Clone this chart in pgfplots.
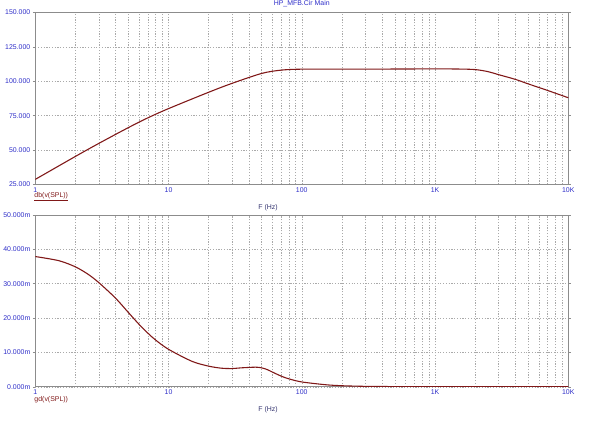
\documentclass[border=0pt]{standalone}
\usepackage{fontspec}
\setmainfont{Liberation Sans}
\usepackage{pgfplots}
\pgfplotsset{compat=1.18}
\definecolor{curve}{RGB}{128,24,24}
\definecolor{tickblue}{RGB}{45,45,200}
\definecolor{gridgray}{RGB}{170,170,170}
\definecolor{axisgray}{RGB}{140,140,140}
\definecolor{labnavy}{RGB}{50,50,110}
\begin{document}
\begin{tikzpicture}
\path (0pt,0pt) rectangle (600pt,424pt);
\begin{semilogxaxis}[scale only axis, width=538pt, height=173.4pt,
  xmin=1, xmax=10000,
  xtick={1,10,100,1000,10000}, xticklabels={1,10,100,1K,10K},
  grid=both,
  major grid style={gridgray, dash pattern=on 1.2pt off 1.6pt, line width=0.45pt},
  minor grid style={gridgray, dash pattern=on 1.2pt off 1.6pt, line width=0.45pt},
  axis line style={axisgray, line width=0.8pt},
  major x tick style={draw=none}, minor x tick style={draw=none},
  major y tick style={axisgray, line width=0.5pt},
  tick align=outside, major tick length=2.5pt,
  ticklabel style={font=\fontsize{7}{8}\selectfont, text=tickblue},
  xticklabel style={yshift=3pt},
  yticklabel style={xshift=1pt},
  xlabel={F (Hz)}, xlabel style={font=\fontsize{7}{8}\selectfont, text=labnavy, yshift=-5pt, xshift=-34pt},
  anchor=south west, at={(30pt,241.6pt)}, ymin=25, ymax=150,
  ytick={25,50,75,100,125,150},
  yticklabels={25.000,50.000,75.000,100.000,125.000,150.000},
  title={HP\_MFB.Cir Main}, title style={font=\fontsize{7}{8}\selectfont, text=tickblue, inner sep=0.5pt, yshift=-1pt}]
\addplot[curve, line width=1.1pt, smooth] coordinates {
(1,28.6)(2,45.3)(3,54.8)(5,66.3)(7,73.4)(10,80.1)(20,92.0)(30,98.5)(50,105.7)(70,108.1)(100,108.8)(200,108.8)(500,108.9)(1000,109.0)(1500,108.9)(2000,108.5)(2500,107.0)(3000,104.8)(4000,101.4)(5000,98.1)(7000,93.3)(10000,88.0)};
\end{semilogxaxis}
\begin{semilogxaxis}[scale only axis, width=538pt, height=173.4pt,
  xmin=1, xmax=10000,
  xtick={1,10,100,1000,10000}, xticklabels={1,10,100,1K,10K},
  grid=both,
  major grid style={gridgray, dash pattern=on 1.2pt off 1.6pt, line width=0.45pt},
  minor grid style={gridgray, dash pattern=on 1.2pt off 1.6pt, line width=0.45pt},
  axis line style={axisgray, line width=0.8pt},
  major x tick style={draw=none}, minor x tick style={draw=none},
  major y tick style={axisgray, line width=0.5pt},
  tick align=outside, major tick length=2.5pt,
  ticklabel style={font=\fontsize{7}{8}\selectfont, text=tickblue},
  xticklabel style={yshift=3pt},
  yticklabel style={xshift=1pt},
  xlabel={F (Hz)}, xlabel style={font=\fontsize{7}{8}\selectfont, text=labnavy, yshift=-5pt, xshift=-34pt},
  anchor=south west, at={(30pt,37.3pt)}, ymin=0, ymax=50,
  ytick={0,10,20,30,40,50},
  yticklabels={0.000m,10.000m,20.000m,30.000m,40.000m,50.000m}]
\addplot[curve, line width=1.1pt, smooth] coordinates {
(1,37.9)(1.5,36.7)(2,34.9)(2.5,32.7)(3,30.3)(4,25.8)(5,21.6)(6,18.2)(7,15.6)(8,13.6)(10,10.9)(15,7.4)(20,6.0)(25,5.4)(30,5.3)(35,5.5)(45,5.7)(50,5.5)(55,5.0)(60,4.3)(70,3.1)(80,2.3)(100,1.4)(150,0.6)(200,0.3)(300,0.12)(500,0.05)(1000,0.01)(10000,0)};
\end{semilogxaxis}
\node[anchor=west, text=curve, font=\fontsize{7}{8}\selectfont, inner sep=0pt] at (29pt,229pt) {\underline{db(v(SPL))}};
\node[anchor=west, text=curve, font=\fontsize{7}{8}\selectfont, inner sep=0pt] at (29pt,24pt) {gd(v(SPL))};
\end{tikzpicture}
\end{document}
